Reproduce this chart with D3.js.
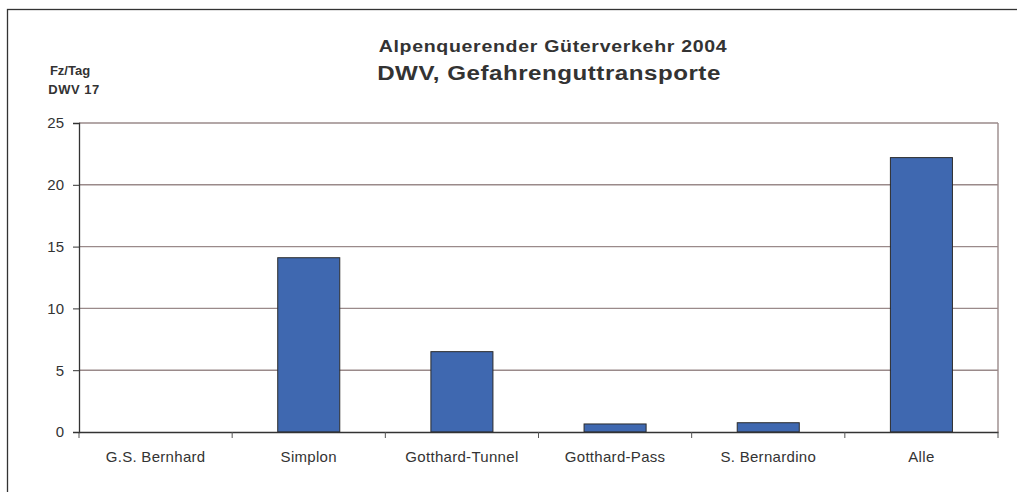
<!DOCTYPE html>
<html>
<head>
<meta charset="utf-8">
<script src="https://cdn.jsdelivr.net/npm/d3@7"></script>
<style>
  body { margin: 0; background: #fff; }
  svg { display: block; font-family: "Liberation Sans", Arial, sans-serif; }
</style>
</head>
<body>
<svg id="chart" width="1017" height="492"></svg>
<script>
// daten
const categories = ["G.S. Bernhard", "Simplon", "Gotthard-Tunnel", "Gotthard-Pass", "S. Bernardino", "Alle"];
const values = [0, 14.1, 6.5, 0.65, 0.75, 22.2];
const yTicks = [0, 5, 10, 15, 20, 25];

const data = categories.map((c, i) => ({ category: c, value: values[i] }));

const svg = d3.select("#chart");
const plot = { left: 79, right: 998, top: 123, bottom: 432 };

// rahmen (rechts und unten ausserhalb des bildes)
svg.append("rect")
    .attr("x", 7.5).attr("y", 9.5)
    .attr("width", 1100).attr("height", 600)
    .attr("fill", "none")
    .attr("stroke", "#333")
    .attr("stroke-width", 1.3);

const x = d3.scaleBand()
    .domain(categories)
    .range([plot.left, plot.right])
    .padding(0);

const y = d3.scaleLinear()
    .domain([0, 25])
    .range([plot.bottom, plot.top]);

// gitterlinien
svg.append("g")
    .selectAll("line")
    .data(yTicks.filter(t => t > 0))
    .enter()
    .append("line")
    .attr("x1", plot.left).attr("x2", plot.right)
    .attr("y1", d => y(d)).attr("y2", d => y(d))
    .attr("stroke", "#9a8a8a")
    .attr("stroke-width", 1.4);

// rechter rand
svg.append("line")
    .attr("x1", plot.right).attr("x2", plot.right)
    .attr("y1", plot.top).attr("y2", plot.bottom)
    .attr("stroke", "#9a8a8a")
    .attr("stroke-width", 1.4);

// balken
const bw = x.bandwidth() * 0.405;
svg.selectAll(".bar")
    .data(data)
    .enter()
    .append("rect")
    .attr("class", "bar")
    .attr("x", d => x(d.category) + (x.bandwidth() - bw) / 2)
    .attr("y", d => y(d.value))
    .attr("width", bw)
    .attr("height", d => plot.bottom - y(d.value))
    .attr("fill", "#3f68b0")
    .attr("stroke", d => d.value > 0 ? "#2b2b2b" : "none")
    .attr("stroke-width", 1);

// ox
const xAxis = svg.append("g")
    .attr("transform", `translate(0,${plot.bottom})`)
    .call(d3.axisBottom(x).tickSize(0).tickPadding(19));
xAxis.select(".domain").attr("stroke", "#333").attr("stroke-width", 1.3);
xAxis.selectAll("text")
    .style("font-size", "15px")
    .style("letter-spacing", "0.3px")
    .style("fill", "#333");

// trennstriche zwischen kategorien
svg.append("g")
    .selectAll("line")
    .data(categories.concat(["end"]))
    .enter()
    .append("line")
    .attr("x1", (d, i) => plot.left + i * x.step())
    .attr("x2", (d, i) => plot.left + i * x.step())
    .attr("y1", plot.bottom)
    .attr("y2", plot.bottom + 6)
    .attr("stroke", "#555")
    .attr("stroke-width", 1);

// oy
const yAxis = svg.append("g")
    .attr("transform", `translate(${plot.left},0)`)
    .call(d3.axisLeft(y).tickValues(yTicks).tickSize(6).tickPadding(9));
yAxis.select(".domain").attr("stroke", "#333").attr("stroke-width", 1.3);
yAxis.selectAll(".tick line").attr("stroke", "#333");
yAxis.selectAll("text")
    .style("font-size", "15px")
    .style("fill", "#333");

// titel (leicht breit gezogen wie im original)
svg.append("text")
    .attr("transform", "translate(553,52) scale(1.15,1)")
    .attr("text-anchor", "middle")
    .style("font-size", "17px")
    .style("font-weight", "bold")
    .style("letter-spacing", "0.6px")
    .style("fill", "#333")
    .text("Alpenquerender Güterverkehr 2004");

svg.append("text")
    .attr("transform", "translate(549,80) scale(1.15,1)")
    .attr("text-anchor", "middle")
    .style("font-size", "21px")
    .style("font-weight", "bold")
    .style("letter-spacing", "0.45px")
    .style("fill", "#333")
    .text("DWV, Gefahrenguttransporte");

// einheit
svg.append("text")
    .attr("x", 70).attr("y", 75)
    .attr("text-anchor", "middle")
    .style("font-size", "13px")
    .style("font-weight", "bold")
    .style("fill", "#333")
    .text("Fz/Tag");

svg.append("text")
    .attr("x", 74).attr("y", 94)
    .attr("text-anchor", "middle")
    .style("font-size", "13px")
    .style("font-weight", "bold")
    .style("letter-spacing", "0.5px")
    .style("fill", "#333")
    .text("DWV 17");
</script>
</body>
</html>
